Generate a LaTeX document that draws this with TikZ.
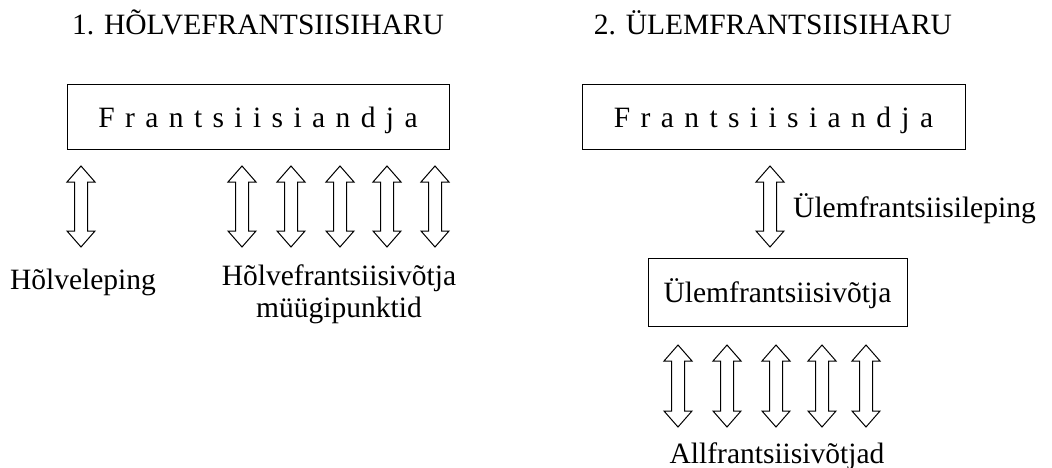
\documentclass[tikz,border=0pt]{standalone}
\usepackage{fontspec}
\setmainfont{Liberation Serif}
\newcommand{\gp}{\hspace{10.4pt}}
\newcommand{\dblarr}[3]{% x, ytop, ybot
  \draw[arrshape] (#1,#2) -- ({#1+14},{#2+16}) -- ({#1+6.5},{#2+16}) -- ({#1+6.5},{#3-16}) -- ({#1+14},{#3-16}) -- (#1,#3) -- ({#1-14},{#3-16}) -- ({#1-6.5},{#3-16}) -- ({#1-6.5},{#2+16}) -- ({#1-14},{#2+16}) -- cycle;}
\tikzset{
  txt/.style={font=\fontsize{29.5}{32}\selectfont, inner sep=0pt},
  boxnode/.style={txt, draw, line width=1pt, text depth=0pt},
  arrshape/.style={draw, line width=1pt, line join=miter, fill=white}
}
\begin{document}
\begin{tikzpicture}[x=1pt,y=-1pt]
\useasboundingbox (0,0) rectangle (1052,468);
% titles
\node[txt, anchor=base] (t1) at (258,35) {1. HÕLVEFRANTSIISIHARU};
\node[txt, anchor=base] (t2) at (773,35) {2. ÜLEMFRANTSIISIHARU};
% boxes
\node[boxnode, minimum width=382pt, minimum height=65pt, text height=21pt] (fa1) at (258,117.5)
  {F\gp r\gp a\gp n\gp t\gp s\gp i\gp i\gp s\gp i\gp a\gp n\gp d\gp j\gp a\hspace{10pt}};
\node[boxnode, minimum width=383pt, minimum height=65pt, text height=21pt] (fa2) at (773.5,117.5)
  {F\gp r\gp a\gp n\gp t\gp s\gp i\gp i\gp s\gp i\gp a\gp n\gp d\gp j\gp a\hspace{9pt}};
\node[boxnode, minimum width=259pt, minimum height=68pt, text height=20pt] (uv) at (777.5,292)
  {Ülemfrantsiisivõtja};
% left arrows
\dblarr{81}{166}{247}
\dblarr{242}{166}{247}
\dblarr{291}{166}{247}
\dblarr{340}{166}{247}
\dblarr{387}{166}{247}
\dblarr{435}{166}{247}
% right arrows
\dblarr{770}{166}{247}
\dblarr{678}{345}{427}
\dblarr{727}{345}{427}
\dblarr{776}{345}{427}
\dblarr{822}{345}{427}
\dblarr{866}{345}{427}
% labels
\node[txt, anchor=base] (hl) at (83,289) {Hõlveleping};
\node[txt, anchor=base] (hv1) at (339,285) {Hõlvefrantsiisivõtja};
\node[txt, anchor=base] (hv2) at (339,317) {müügipunktid};
\node[txt, anchor=base west] (ul) at (793,217) {Ülemfrantsiisileping};
\node[txt, anchor=base] (af) at (777,463) {Allfrantsiisivõtjad};
\end{tikzpicture}
\end{document}
